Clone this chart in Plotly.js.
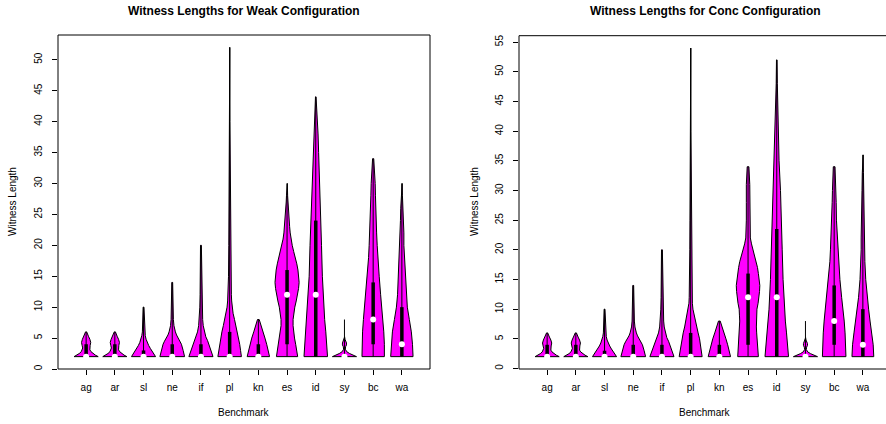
<!DOCTYPE html>
<html>
<head>
<meta charset="utf-8">
<script src="https://cdn.plot.ly/plotly-3.0.1.min.js"></script>
<style>html,body{margin:0;padding:0;background:#fff;}#chart{width:886px;height:424px;}</style>
</head>
<body>
<div id="chart"></div>
<script>
// ---------- data ----------
const benchmarks = ['ag','ar','sl','ne','if','pl','kn','es','id','sy','bc','wa'];

const weakMin    = [2,2,2,2,2,2,2,2,2,2,2,2];
const weakMax    = [6,6,10,14,20,52,8,30,44,8,34,30];
const weakQ1     = [2,2,2,2,2,2,2,4,2,2,4,2];
const weakQ3     = [4,4,3,4,4,6,4,16,24,2,14,10];
const weakMedian = [2,2,2,2,2,2,2,12,12,2,8,4];

const concMin    = [2,2,2,2,2,2,2,2,2,2,2,2];
const concMax    = [6,6,10,14,20,54,8,34,52,8,34,36];
const concQ1     = [2,2,2,2,2,2,2,4,2,2,4,2];
const concQ3     = [4,4,3,4,4,6,4,16,23.5,2,14,10];
const concMedian = [2,2,2,2,2,2,2,12,12,2,8,4];

// density outlines (value, half-width)
const weakDensityY = [
  [2,2.25,2.5,2.8,3.1,3.4,3.8,4.3,4.8,5.3,5.7,6],
  [2,2.25,2.5,2.8,3.1,3.4,3.8,4.3,4.8,5.3,5.7,6],
  [2,2.4,2.8,3.3,3.8,4.3,4.8,5.4,6,7,8,9,10],
  [2,3,4,4.5,5,5.5,6,6.5,7,8,10,12,14],
  [2,3,4,4.6,5.2,6,7,8,9,10,12,14,17,20],
  [2,3,4,5,6,7,8,9,10,11,12,15,20,25,30,35,40,52],
  [2,3,4,5,6,7,7.6,8],
  [2,3,4,5,6,7,8,9,10,11,12,13,14,15,16,17,18,19,20,21,22,23,24,25,26,27,28,30],
  [2,4,6,8,10,15,20,25,30,35,38,40,42,44],
  [2,2.2,2.5,2.8,3.2,3.6,3.9,4.2,4.5,4.8,5.2],
  [2,4,6,8,10,12,15,18,20,22,25,28,30,32,34],
  [2,4,6,8,10,12,15,18,20,22,24,26,28,30]
];
const weakDensityW = [
  [0.42,0.32,0.24,0.17,0.13,0.12,0.14,0.16,0.13,0.08,0.04,0.02],
  [0.42,0.32,0.24,0.17,0.13,0.12,0.14,0.16,0.13,0.08,0.04,0.02],
  [0.42,0.36,0.30,0.24,0.18,0.13,0.09,0.06,0.04,0.03,0.025,0.02,0.015],
  [0.43,0.38,0.32,0.27,0.20,0.15,0.11,0.08,0.06,0.04,0.03,0.02,0.015],
  [0.42,0.35,0.28,0.23,0.17,0.12,0.08,0.06,0.05,0.04,0.03,0.025,0.02,0.015],
  [0.41,0.38,0.35,0.32,0.27,0.22,0.17,0.12,0.09,0.07,0.06,0.04,0.03,0.025,0.02,0.015,0.01,0.005],
  [0.39,0.34,0.29,0.23,0.16,0.10,0.06,0.03],
  [0.37,0.34,0.30,0.26,0.23,0.21,0.21,0.23,0.27,0.32,0.37,0.40,0.42,0.41,0.38,0.34,0.29,0.23,0.18,0.14,0.11,0.09,0.07,0.05,0.04,0.03,0.02,0.01],
  [0.41,0.38,0.35,0.31,0.28,0.23,0.20,0.16,0.14,0.10,0.08,0.06,0.04,0.01],
  [0.42,0.30,0.18,0.08,0.03,0.04,0.07,0.07,0.05,0.02,0.005],
  [0.39,0.39,0.37,0.34,0.30,0.26,0.21,0.16,0.14,0.12,0.09,0.08,0.07,0.05,0.02],
  [0.39,0.37,0.33,0.26,0.19,0.15,0.12,0.09,0.07,0.07,0.05,0.04,0.02,0.01]
];
const concDensityY = [
  [2,2.25,2.5,2.8,3.1,3.4,3.8,4.3,4.8,5.3,5.7,6],
  [2,2.25,2.5,2.8,3.1,3.4,3.8,4.3,4.8,5.3,5.7,6],
  [2,2.4,2.8,3.3,3.8,4.3,4.8,5.4,6,7,8,9,10],
  [2,3,4,4.5,5,5.5,6,6.5,7,8,10,12,14],
  [2,3,4,4.6,5.2,6,7,8,9,10,12,14,17,20],
  [2,3,4,5,6,7,8,9,10,11,12,15,20,25,30,35,40,54],
  [2,3,4,5,6,7,7.6,8],
  [2,3,4,5,6,7,8,9,10,11,12,13,14,15,16,17,18,19,20,21,22,23,25,28,31,34],
  [2,4,6,8,10,15,20,25,30,35,40,45,48,52],
  [2,2.2,2.5,2.8,3.2,3.6,3.9,4.2,4.5,4.8,5.2],
  [2,4,6,8,10,12,15,18,20,22,25,28,30,32,34],
  [2,4,6,8,10,12,15,18,20,22,25,28,30,33,36]
];
const concDensityW = [
  [0.42,0.32,0.24,0.17,0.13,0.12,0.14,0.16,0.13,0.08,0.04,0.02],
  [0.42,0.32,0.24,0.17,0.13,0.12,0.14,0.16,0.13,0.08,0.04,0.02],
  [0.42,0.36,0.30,0.24,0.18,0.13,0.09,0.06,0.04,0.03,0.025,0.02,0.015],
  [0.43,0.38,0.32,0.27,0.20,0.15,0.11,0.08,0.06,0.04,0.03,0.02,0.015],
  [0.42,0.35,0.28,0.23,0.17,0.12,0.08,0.06,0.05,0.04,0.03,0.025,0.02,0.015],
  [0.40,0.37,0.34,0.31,0.26,0.21,0.17,0.12,0.08,0.06,0.05,0.035,0.03,0.025,0.02,0.015,0.01,0.005],
  [0.39,0.34,0.29,0.23,0.16,0.10,0.06,0.03],
  [0.36,0.35,0.34,0.32,0.30,0.29,0.29,0.30,0.31,0.35,0.38,0.40,0.41,0.39,0.36,0.33,0.29,0.23,0.17,0.12,0.08,0.07,0.06,0.06,0.06,0.03],
  [0.41,0.37,0.34,0.30,0.27,0.22,0.19,0.15,0.13,0.08,0.06,0.03,0.02,0.01],
  [0.42,0.30,0.18,0.08,0.03,0.04,0.07,0.07,0.05,0.02,0.005],
  [0.41,0.40,0.38,0.35,0.31,0.26,0.20,0.15,0.13,0.11,0.08,0.07,0.06,0.05,0.03],
  [0.38,0.36,0.31,0.25,0.20,0.15,0.10,0.07,0.06,0.06,0.04,0.03,0.03,0.02,0.01]
];

const weakTicks = [0,5,10,15,20,25,30,35,40,45,50];
const concTicks = [0,5,10,15,20,25,30,35,40,45,50,55];

// ---------- build traces ----------
const FONT = 'Liberation Sans, Arial, Helvetica, sans-serif';
const traces = [];

function addPanel(xa, ya, mins, maxs, q1, q3, med, dY, dW) {
  benchmarks.forEach((b, i) => {
    const c = i + 1;
    const ys = dY[i], ws = dW[i];
    const px = [], py = [];
    for (let k = 0; k < ys.length; k++) { px.push(c - ws[k]); py.push(ys[k]); }
    for (let k = ys.length - 1; k >= 0; k--) { px.push(c + ws[k]); py.push(ys[k]); }
    px.push(px[0]); py.push(py[0]);
    traces.push({
      type: 'scatter', mode: 'lines', x: px, y: py, xaxis: xa, yaxis: ya,
      fill: 'toself', fillcolor: '#FF00FF',
      line: {color: '#000', width: 1}, hoverinfo: 'skip', showlegend: false
    });
  });
  const wx = [], wy = [], bx = [], by = [];
  benchmarks.forEach((b, i) => {
    wx.push(i + 1, i + 1, null); wy.push(mins[i], maxs[i], null);
    bx.push(i + 1, i + 1, null); by.push(q1[i], q3[i], null);
  });
  traces.push({type: 'scatter', mode: 'lines', x: wx, y: wy, xaxis: xa, yaxis: ya,
    line: {color: '#000', width: 1}, hoverinfo: 'skip', showlegend: false});
  traces.push({type: 'scatter', mode: 'lines', x: bx, y: by, xaxis: xa, yaxis: ya,
    line: {color: '#000', width: 3.5}, hoverinfo: 'skip', showlegend: false});
  traces.push({type: 'scatter', mode: 'markers', x: benchmarks.map((b, i) => i + 1), y: med,
    xaxis: xa, yaxis: ya, marker: {color: '#fff', size: 6, line: {width: 0}},
    hoverinfo: 'skip', showlegend: false});
}

addPanel('x', 'y', weakMin, weakMax, weakQ1, weakQ3, weakMedian, weakDensityY, weakDensityW);
addPanel('x2', 'y2', concMin, concMax, concQ1, concQ3, concMedian, concDensityY, concDensityW);

// ---------- layout ----------
const W = 886, H = 424;
const pxPerUnit = (430 - 58) / 12.96;
const axisBase = {
  showgrid: false, zeroline: false, showline: false,
  ticks: 'outside', ticklen: 5, tickwidth: 1, tickcolor: '#000',
  tickfont: {family: FONT, size: 10, color: '#000'}, fixedrange: true
};
const xBase = Object.assign({}, axisBase, {
  tickmode: 'array', tickvals: benchmarks.map((b, i) => i + 1), ticktext: benchmarks,
  ticklabelstandoff: 4
});
const layout = {
  width: W, height: H,
  margin: {l: 0, r: 0, t: 0, b: 0, pad: 0},
  paper_bgcolor: '#fff', plot_bgcolor: 'rgba(0,0,0,0)',
  showlegend: false, hovermode: false,
  font: {family: FONT, size: 10, color: '#000'},
  xaxis: Object.assign({}, xBase, {domain: [58 / W, 430 / W], range: [0.02, 12.98], anchor: 'y'}),
  yaxis: Object.assign({}, axisBase, {domain: [(H - 369) / H, (H - 35) / H], range: [0, 54],
    tickmode: 'array', tickvals: weakTicks, ticktext: weakTicks.map(String),
    tickangle: -90, ticklabelstandoff: 6, anchor: 'x'}),
  xaxis2: Object.assign({}, xBase, {domain: [519 / W, 1], range: [0.02, 0.02 + (W - 519) / pxPerUnit], anchor: 'y2'}),
  yaxis2: Object.assign({}, axisBase, {domain: [(H - 369) / H, (H - 35.7) / H], range: [-0.08, 56.08],
    tickmode: 'array', tickvals: concTicks, ticktext: concTicks.map(String),
    tickangle: -90, ticklabelstandoff: 6, anchor: 'x2'}),
  shapes: [
    {type: 'rect', xref: 'x domain', yref: 'y domain', x0: 0, x1: 1, y0: 0, y1: 1,
      line: {color: '#000', width: 1}, fillcolor: 'rgba(0,0,0,0)'},
    {type: 'rect', xref: 'x2 domain', yref: 'y2 domain', x0: 0, x1: 1.1, y0: 0, y1: 1,
      line: {color: '#000', width: 1}, fillcolor: 'rgba(0,0,0,0)'}
  ],
  annotations: [
    {text: '<b>Witness Lengths for Weak Configuration</b>', xref: 'paper', yref: 'paper',
      x: 244 / W, y: 1 - 11 / H, xanchor: 'center', yanchor: 'middle', showarrow: false,
      font: {family: FONT, size: 12, color: '#000'}},
    {text: '<b>Witness Lengths for Conc Configuration</b>', xref: 'paper', yref: 'paper',
      x: 705 / W, y: 1 - 11 / H, xanchor: 'center', yanchor: 'middle', showarrow: false,
      font: {family: FONT, size: 12, color: '#000'}},
    {text: 'Benchmark', xref: 'paper', yref: 'paper', x: 244 / W, y: 1 - 412 / H,
      xanchor: 'center', yanchor: 'middle', showarrow: false, font: {family: FONT, size: 10, color: '#000'}},
    {text: 'Benchmark', xref: 'paper', yref: 'paper', x: 705 / W, y: 1 - 412 / H,
      xanchor: 'center', yanchor: 'middle', showarrow: false, font: {family: FONT, size: 10, color: '#000'}},
    {text: 'Witness Length', xref: 'paper', yref: 'paper', x: 13 / W, y: 1 - 202 / H, textangle: -90,
      xanchor: 'center', yanchor: 'middle', showarrow: false, font: {family: FONT, size: 10, color: '#000'}},
    {text: 'Witness Length', xref: 'paper', yref: 'paper', x: 475 / W, y: 1 - 202 / H, textangle: -90,
      xanchor: 'center', yanchor: 'middle', showarrow: false, font: {family: FONT, size: 10, color: '#000'}}
  ]
};

Plotly.newPlot('chart', traces, layout, {staticPlot: true, displayModeBar: false});
</script>
</body>
</html>
